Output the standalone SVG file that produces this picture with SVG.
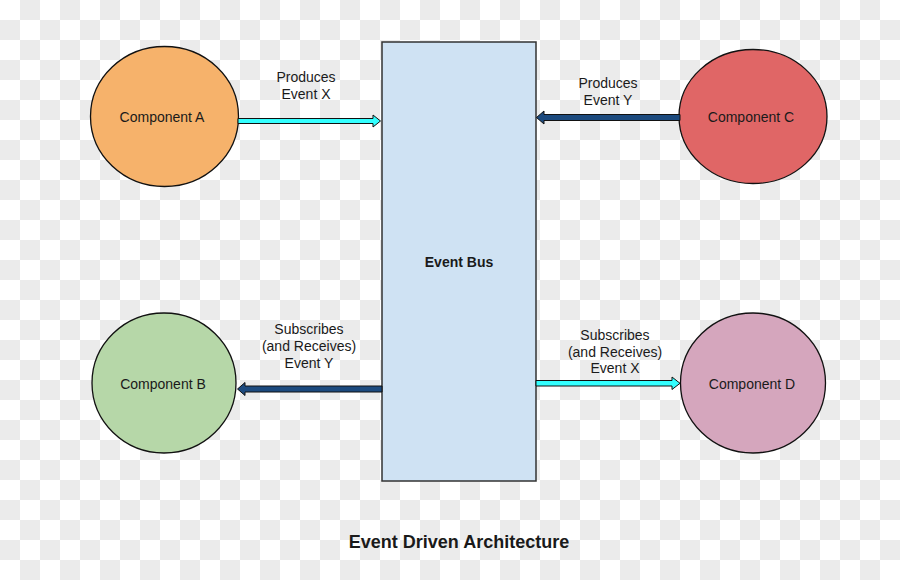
<svg xmlns="http://www.w3.org/2000/svg" width="900" height="580" viewBox="0 0 900 580">
<defs>
<pattern id="checker" x="0" y="0" width="40" height="40" patternUnits="userSpaceOnUse">
<rect width="40" height="40" fill="#ffffff"/>
<rect x="20" y="0" width="20" height="20" fill="#ebebeb"/>
<rect x="0" y="20" width="20" height="20" fill="#ebebeb"/>
</pattern>
<style>
text{font-family:"Liberation Sans",Arial,sans-serif;fill:#1a1a1a;text-anchor:middle}
.lbl{font-size:14px}
.bold{font-weight:bold}
.node{stroke:#111;stroke-width:1.3}
.cyan{fill:#33ffff;stroke:#111;stroke-width:1}
.navy{fill:#1c4a7e;stroke:#111;stroke-width:1}
</style>
</defs>
<rect width="900" height="580" fill="url(#checker)"/>
<g id="event-bus">
<rect x="382" y="42" width="154" height="439" fill="#cfe2f3" stroke="#333" stroke-width="1.5"/>
<text class="lbl bold" x="459" y="267">Event Bus</text>
</g>
<g id="component-a">
<ellipse class="node" cx="164.5" cy="116.5" rx="74" ry="70" fill="#f6b26b"/>
<text class="lbl" x="162" y="122">Component A</text>
</g>
<g id="component-b">
<ellipse class="node" cx="164" cy="383" rx="72" ry="70" fill="#b6d7a8"/>
<text class="lbl" x="163" y="389">Component B</text>
</g>
<g id="component-c">
<ellipse class="node" cx="753" cy="116.5" rx="74" ry="67" fill="#e06666"/>
<text class="lbl" x="751" y="122">Component C</text>
</g>
<g id="component-d">
<ellipse class="node" cx="753" cy="383" rx="72.5" ry="70" fill="#d5a6bd"/>
<text class="lbl" x="752" y="389">Component D</text>
</g>
<g id="connectors">
<polygon class="cyan" points="238,118.5 373,118.5 373,115 380.5,121 373,127 373,123.5 238,123.5"/>
<polygon class="navy" points="680,114.5 544,114.5 544,111 536.5,117.5 544,124 544,120.5 680,120.5"/>
<polygon class="navy" points="382,386 245,386 245,382.5 237.5,389 245,395.5 245,392 382,392"/>
<polygon class="cyan" points="536,380.5 672,380.5 672,377 680,383.3 672,389.5 672,386 536,386"/>
<text class="lbl" x="306" y="82">Produces</text>
<text class="lbl" x="306" y="99">Event X</text>
<text class="lbl" x="608" y="88">Produces</text>
<text class="lbl" x="608" y="105">Event Y</text>
<text class="lbl" x="309" y="334">Subscribes</text>
<text class="lbl" x="309" y="351">(and Receives)</text>
<text class="lbl" x="309" y="368">Event Y</text>
<text class="lbl" x="615" y="340">Subscribes</text>
<text class="lbl" x="615" y="357">(and Receives)</text>
<text class="lbl" x="615" y="373">Event X</text>
</g>
<text class="bold" x="459" y="548" style="font-size:18px">Event Driven Architecture</text>
</svg>
